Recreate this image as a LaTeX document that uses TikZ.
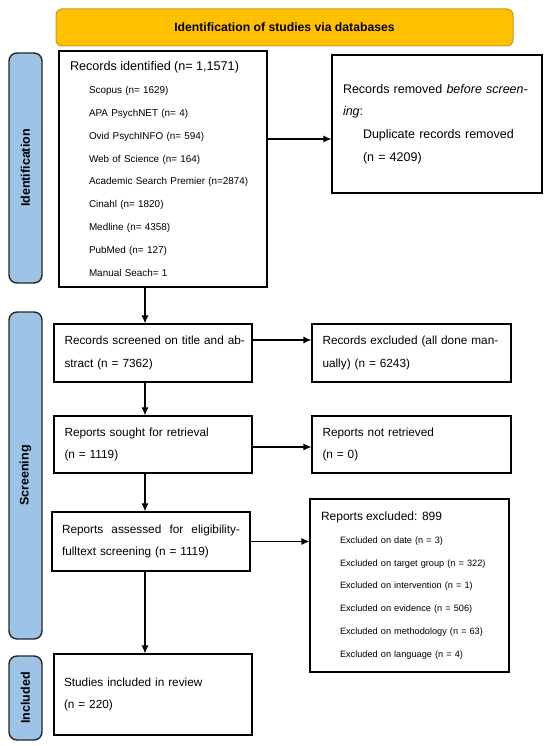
\documentclass[tikz,border=0pt]{standalone}
\usepackage{fontspec}
\usepackage{graphicx}
\setmainfont{Liberation Sans}
\usetikzlibrary{arrows.meta,calc}
\definecolor{hdr}{HTML}{FFC000}
\definecolor{hdrline}{HTML}{C99A1E}
\definecolor{side}{HTML}{9DC3E6}
\begin{document}
\begin{tikzpicture}[x=1pt,y=-1pt,
  box/.style={draw=black,line width=1.2pt,rectangle,align=left,inner xsep=2pt,inner ysep=0pt,
    font=\fontsize{11.8}{22.8}\selectfont},
  sidebar/.style={draw=black!85,line width=1.4pt,fill=side,rounded corners=8pt,rotate=90,
    minimum height=33pt,inner sep=0pt,font=\fontsize{12.5}{14}\selectfont\bfseries},
  arr/.style={line width=1.1pt,-{Latex[length=8pt,width=7pt]}}
]
\useasboundingbox (0,0) rectangle (550,746);
% header
\node[draw=hdrline,line width=1pt,fill=hdr,rounded corners=6pt,minimum width=457pt,minimum height=37pt,
  font=\fontsize{12.2}{14}\selectfont\bfseries] (hdr) at (284.5,27.5) {Identification of studies via databases};
% side bars
\node[sidebar,minimum width=230pt] (sid) at (25.5,168) {Identification};
\node[sidebar,minimum width=327pt] (ssc) at (25.5,475.5) {Screening};
\node[sidebar,minimum width=84pt] (sin) at (25.5,698) {Included};
% boxes
\node[box,minimum width=208pt,minimum height=236pt,text width=186pt,font=\fontsize{9.9}{22.9}\selectfont] (ident) at (163,169)
{\resizebox{169pt}{!}{\fontsize{12.5}{22.9}\selectfont Records identified (n= 1,1571)}\\
\hspace*{19pt}\mbox{Scopus (n= 1629)}\\
\hspace*{19pt}\mbox{APA PsychNET (n= 4)}\\
\hspace*{19pt}\mbox{Ovid PsychINFO (n= 594)}\\
\hspace*{19pt}\mbox{Web of Science (n= 164)}\\
\hspace*{19pt}\mbox{Academic Search Premier (n=2874)}\\
\hspace*{19pt}\mbox{Cinahl (n= 1820)}\\
\hspace*{19pt}\mbox{Medline (n= 4358)}\\
\hspace*{19pt}\mbox{PubMed (n= 127)}\\
\hspace*{19pt}\mbox{Manual Seach= 1}};
\node[box,minimum width=210pt,minimum height=138pt,text width=188pt,font=\fontsize{12.5}{22.8}\selectfont] (removed) at (437,124)
{\mbox{Records removed \textit{before screen-}}\\
\mbox{\textit{ing}:}\\
\hspace*{20pt}\mbox{Duplicate records removed}\\
\hspace*{20pt}\mbox{(n = 4209)}};
\node[box,minimum width=198pt,minimum height=58pt,text width=177pt] (screened) at (153,353)
{\mbox{Records screened on title and ab-}\\\mbox{stract (n = 7362)}};
\node[box,minimum width=199pt,minimum height=58pt,text width=178pt] (excl1) at (411.5,353)
{\mbox{Records excluded (all done man-}\\\mbox{ually) (n = 6243)}};
\node[box,minimum width=198pt,minimum height=57pt,text width=177pt] (sought) at (153,444.5)
{\mbox{Reports sought for retrieval}\\\mbox{(n = 1119)}};
\node[box,minimum width=199pt,minimum height=57pt,text width=178pt] (notret) at (411.5,444.5)
{\mbox{Reports not retrieved}\\\mbox{(n = 0)}};
\node[box,minimum width=198pt,minimum height=59pt,text width=178pt] (assessed) at (151,541.5)
{\hbox to 178pt{Reports\hfill assessed\hfill for\hfill eligibility-}\\\mbox{fulltext screening (n = 1119)}};
\node[box,minimum width=199pt,minimum height=173pt,text width=177pt,font=\fontsize{9.2}{22.8}\selectfont] (excl2) at (409.5,585.5)
{\mbox{\fontsize{12}{22.8}\selectfont Reports excluded: 899}\\
\hspace*{19pt}\mbox{Excluded on date (n = 3)}\\
\hspace*{19pt}\mbox{Excluded on target group (n = 322)}\\
\hspace*{19pt}\mbox{Excluded on intervention (n = 1)}\\
\hspace*{19pt}\mbox{Excluded on evidence (n = 506)}\\
\hspace*{19pt}\mbox{Excluded on methodology (n = 63)}\\
\hspace*{19pt}\mbox{Excluded on language (n = 4)}};
\node[box,minimum width=198pt,minimum height=81pt,text width=178pt] (included) at (153,694.5)
{\mbox{Studies included in review}\\\mbox{(n = 220)}};
% connectors
\coordinate (vx) at (145,0);
\coordinate (hy1) at (0,139);
\coordinate (hy2) at (0,340);
\coordinate (hy3) at (0,447);
\draw[arr] (ident.south -| vx) -- (screened.north -| vx);
\draw[arr] (ident.east |- hy1) -- (removed.west |- hy1);
\draw[arr] (screened.east |- hy2) -- (excl1.west |- hy2);
\draw[arr] (screened.south -| vx) -- (sought.north -| vx);
\draw[arr] (sought.east |- hy3) -- (notret.west |- hy3);
\draw[arr] (sought.south -| vx) -- (assessed.north -| vx);
\draw[arr] (assessed.east) -- (excl2.west |- assessed.east);
\draw[arr] (assessed.south -| vx) -- (included.north -| vx);
\end{tikzpicture}
\end{document}
